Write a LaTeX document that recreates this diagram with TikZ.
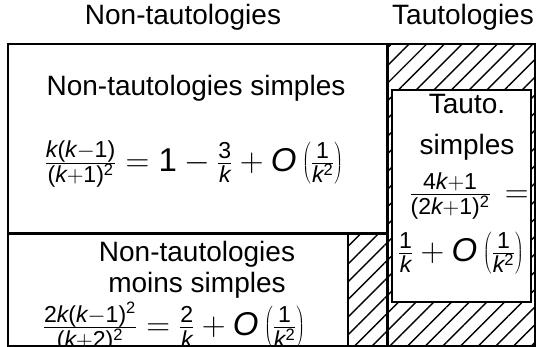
\RequirePackage{fix-cm}
\documentclass[tikz,border=0pt]{standalone}
\usepackage[no-math]{fontspec}
\setmainfont{Liberation Sans}
\DeclareSymbolFont{sfup}{TU}{\rmdefault}{m}{n}
\DeclareSymbolFont{sfit}{TU}{\rmdefault}{m}{it}
\DeclareMathSymbol{0}{\mathalpha}{sfup}{`0}
\DeclareMathSymbol{1}{\mathalpha}{sfup}{`1}
\DeclareMathSymbol{2}{\mathalpha}{sfup}{`2}
\DeclareMathSymbol{3}{\mathalpha}{sfup}{`3}
\DeclareMathSymbol{4}{\mathalpha}{sfup}{`4}
\DeclareMathSymbol{(}{\mathopen}{sfup}{`(}
\DeclareMathSymbol{)}{\mathclose}{sfup}{`)}
\DeclareMathSymbol{k}{\mathalpha}{sfit}{`k}
\DeclareMathSymbol{O}{\mathalpha}{sfit}{`O}
\usetikzlibrary{patterns.meta}
\tikzset{
  frame/.style={draw=black, line width=2pt},
  hatch/.style={pattern={Lines[angle=45, distance=12.5pt, line width=1.4pt]}, pattern color=black},
  lbl/.style={font=\fontsize{28}{31}\selectfont, inner sep=0pt, align=center},
  eqn/.style={font=\fontsize{33}{38}\selectfont, inner sep=0pt},
}
\begin{document}
\begin{tikzpicture}[x=1pt,y=-1pt]
\useasboundingbox (0,0) rectangle (537,347);
% hatched areas
\fill[hatch] (387,44) rectangle (535,346);
\fill[hatch] (348,233) rectangle (387,346);
% boxes
\draw[frame, fill=white] (392,90) rectangle (531,302);
\draw[frame] (8,44) rectangle (535,346);
\draw[frame] (348,233) -- (348,346);
\draw[draw=black, line width=3pt] (8,233) -- (387,233);
\draw[draw=black, line width=3pt] (387,44) -- (387,346);
% labels
\node[lbl] (nt) at (183,17) {Non-tautologies};
\node[lbl, anchor=east] (t) at (534,17) {Tautologies};
\node[lbl] (nts) at (196,88) {Non-tautologies simples};
\node[eqn] (eq1) at (194,164) {$\frac{k(k-1)}{(k+1)^2} = 1 - \frac{3}{k} + O\left(\frac{1}{k^2}\right)$};
\node[lbl] (ntm) at (197,270) {Non-tautologies\\moins simples};
\node[eqn] (eq2) at (174,327) {$\frac{2k(k-1)^2}{(k+2)^2} = \frac{2}{k} + O\left(\frac{1}{k^2}\right)$};
\node[lbl] (ts) at (467,127) {Tauto.\\[10pt]simples};
\node[eqn] (eq3) at (469,196) {$\frac{4k+1}{(2k+1)^2}\hskip 5pt =$};
\node[eqn] (eq4) at (461,253) {$\frac{1}{k} + O\left(\frac{1}{k^2}\right)$};
\end{tikzpicture}
\end{document}
